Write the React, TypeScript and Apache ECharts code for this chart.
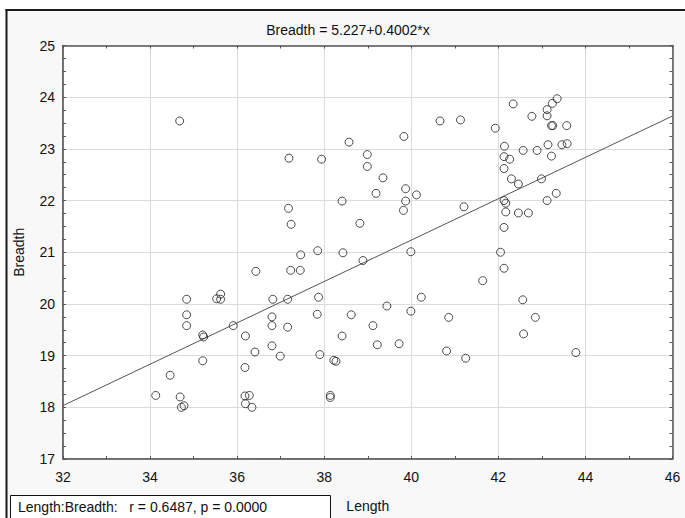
import React, { useEffect, useRef } from "react";
import * as echarts from "echarts";

// Scatter data (Length, Breadth)
const lengthValues: number[] = [
  34.68, 36.43, 34.84, 35.53, 35.62, 35.62, 34.84, 34.84, 35.21, 35.23,
  35.91, 36.19, 36.41, 35.21, 36.18, 34.46, 34.13, 34.69, 34.72, 34.78,
  36.18, 36.28, 36.19, 36.34,
  40.66, 39.83, 38.57, 37.19, 37.94, 38.99, 38.99, 39.35, 39.19, 39.87,
  40.12, 39.87, 39.82, 38.41, 37.18, 37.24, 38.82, 37.85, 37.46, 38.43,
  38.89, 39.99, 37.23, 37.45,
  36.82, 37.16, 37.87, 39.44, 40.23, 36.8, 37.84, 38.62, 39.99, 40.86,
  36.8, 37.16, 38.41, 39.12, 36.8, 36.99, 37.9, 38.22, 38.27, 39.22,
  39.72, 40.81, 38.14, 38.14,
  41.13, 41.93, 42.34, 42.77, 43.12, 43.12, 43.24, 43.35, 43.22, 43.25,
  43.57, 42.14, 42.57, 42.89, 43.14, 43.46, 43.58, 42.13, 42.26, 43.22,
  42.13, 42.3, 42.46, 42.99, 43.33, 43.12, 42.13, 42.17, 41.21, 42.17,
  42.46, 42.69, 42.13, 42.05, 42.13,
  41.64, 42.56, 42.85, 42.58, 41.25, 43.78,
];
const breadthValues: number[] = [
  23.54, 20.63, 20.09, 20.1, 20.19, 20.09, 19.79, 19.58, 19.4, 19.36,
  19.58, 19.38, 19.07, 18.9, 18.77, 18.62, 18.23, 18.2, 18.0, 18.03,
  18.22, 18.23, 18.07, 18.0,
  23.54, 23.24, 23.13, 22.82, 22.8, 22.89, 22.66, 22.44, 22.14, 22.23,
  22.11, 21.99, 21.81, 21.99, 21.85, 21.54, 21.56, 21.03, 20.95, 20.99,
  20.84, 21.01, 20.65, 20.65,
  20.09, 20.09, 20.13, 19.96, 20.13, 19.75, 19.8, 19.79, 19.86, 19.74,
  19.58, 19.55, 19.38, 19.58, 19.19, 18.99, 19.02, 18.91, 18.89, 19.21,
  19.23, 19.09, 18.23, 18.19,
  23.56, 23.4, 23.87, 23.63, 23.76, 23.64, 23.88, 23.97, 23.45, 23.45,
  23.45, 23.05, 22.97, 22.97, 23.08, 23.08, 23.1, 22.85, 22.8, 22.86,
  22.62, 22.42, 22.32, 22.42, 22.14, 22.0, 22.0, 21.95, 21.88, 21.78,
  21.76, 21.76, 21.48, 21.0, 20.69,
  20.45, 20.08, 19.74, 19.42, 18.95, 19.06,
];

// Axis ranges / ticks
const xMin = 32;
const xMax = 46;
const xInterval = 2;
const yMin = 17;
const yMax = 25;
const yInterval = 1;

// Regression coefficients as printed on the chart
const intercept = 5.227;
const slope = 0.4002;

const titleText = "Breadth = 5.227+0.4002*x";
const statText = "Length:Breadth:   r = 0.6487, p = 0.0000";
const xName = "Length";
const yName = "Breadth";

const FONT = "'Liberation Sans', Arial, sans-serif";

export default function App() {
  const ref = useRef<HTMLDivElement>(null);

  useEffect(() => {
    if (!ref.current) return;
    const chart = echarts.init(ref.current, undefined, { renderer: "svg" });

    const points = lengthValues.map((x, i) => [x, breadthValues[i]]);
    const regLine = [
      [xMin, intercept + slope * xMin],
      [xMax, intercept + slope * xMax],
    ];

    const axisLineStyle = { color: "#555", width: 1.5 };
    const tickStyle = { color: "#555", width: 1 };
    const gridLineStyle = { color: "#dcdcdc", width: 1 };

    chart.setOption({
      animation: false,
      backgroundColor: "#f8f8f8",
      textStyle: { fontFamily: FONT },
      grid: {
        left: 63,
        top: 45.5,
        width: 609.5,
        height: 422.5,
        show: true,
        backgroundColor: "#ffffff",
        borderColor: "#555",
        borderWidth: 1,
      },
      graphic: [
        // white page margins outside the figure frame
        {
          type: "rect",
          silent: true,
          shape: { x: 0, y: 0, width: 685, height: 9 },
          style: { fill: "#ffffff" },
        },
        {
          type: "rect",
          silent: true,
          shape: { x: 0, y: 0, width: 5.5, height: 518 },
          style: { fill: "#ffffff" },
        },
        // frame lines (top and left)
        {
          type: "line",
          silent: true,
          shape: { x1: 5.5, y1: 10, x2: 685, y2: 10 },
          style: { stroke: "#1a1a1a", lineWidth: 2 },
        },
        {
          type: "line",
          silent: true,
          shape: { x1: 6.5, y1: 9, x2: 6.5, y2: 518 },
          style: { stroke: "#1a1a1a", lineWidth: 2 },
        },
        {
          type: "text",
          x: 348,
          y: 30,
          style: {
            text: titleText,
            font: `14px ${FONT}`,
            fill: "#111",
            textAlign: "center",
            textVerticalAlign: "middle",
          },
        },
        {
          type: "rect",
          shape: { x: 10.5, y: 495.5, width: 320, height: 30 },
          style: { fill: "#ffffff", stroke: "#111", lineWidth: 1 },
        },
        {
          type: "text",
          x: 18,
          y: 507,
          style: {
            text: statText,
            font: `14px ${FONT}`,
            fill: "#111",
            textAlign: "left",
            textVerticalAlign: "middle",
          },
        },
      ],
      xAxis: [
        {
          type: "value",
          position: "bottom",
          min: xMin,
          max: xMax,
          interval: xInterval,
          axisLine: { show: true, lineStyle: axisLineStyle },
          axisTick: { show: true, inside: true, length: 3, lineStyle: tickStyle },
          minorTick: { show: true, splitNumber: 2, length: 3, lineStyle: tickStyle },
          splitLine: { show: true, lineStyle: gridLineStyle },
          axisLabel: { color: "#111", fontSize: 14, margin: 11, fontFamily: FONT },
          name: xName,
          nameLocation: "middle",
          nameGap: 40,
          nameTextStyle: { color: "#111", fontSize: 14, fontFamily: FONT },
        },
        {
          type: "value",
          position: "top",
          min: xMin,
          max: xMax,
          interval: xInterval,
          axisLine: { show: true, lineStyle: axisLineStyle },
          axisTick: { show: true, inside: true, length: 3, lineStyle: tickStyle },
          minorTick: { show: true, splitNumber: 2, length: 3, lineStyle: tickStyle },
          splitLine: { show: false },
          axisLabel: { show: false },
        },
      ],
      yAxis: [
        {
          type: "value",
          position: "left",
          min: yMin,
          max: yMax,
          interval: yInterval,
          axisLine: { show: true, lineStyle: axisLineStyle },
          axisTick: { show: true, inside: true, length: 3, lineStyle: tickStyle },
          minorTick: { show: true, splitNumber: 4, length: 3, lineStyle: tickStyle },
          splitLine: { show: true, lineStyle: gridLineStyle },
          axisLabel: { color: "#111", fontSize: 14, margin: 8, fontFamily: FONT },
          name: yName,
          nameLocation: "middle",
          nameGap: 37,
          nameTextStyle: { color: "#111", fontSize: 14, fontFamily: FONT },
        },
        {
          type: "value",
          position: "right",
          min: yMin,
          max: yMax,
          interval: yInterval,
          axisLine: { show: true, lineStyle: axisLineStyle },
          axisTick: { show: true, inside: true, length: 3, lineStyle: tickStyle },
          minorTick: { show: true, splitNumber: 4, length: 3, lineStyle: tickStyle },
          splitLine: { show: false },
          axisLabel: { show: false },
        },
      ],
      series: [
        {
          type: "line",
          xAxisIndex: 0,
          yAxisIndex: 0,
          data: regLine,
          symbol: "none",
          lineStyle: { color: "#555", width: 1 },
          silent: true,
          z: 2,
        },
        {
          type: "scatter",
          xAxisIndex: 0,
          yAxisIndex: 0,
          data: points,
          symbol: "circle",
          symbolSize: 8,
          itemStyle: {
            color: "rgba(0,0,0,0)",
            borderColor: "#222",
            borderWidth: 1,
          },
          z: 3,
        },
      ],
    });

    return () => {
      chart.dispose();
    };
  }, []);

  return (
    <div
      ref={ref}
      style={{
        position: "fixed",
        left: 0,
        top: 0,
        width: 685,
        height: 518,
      }}
    />
  );
}
